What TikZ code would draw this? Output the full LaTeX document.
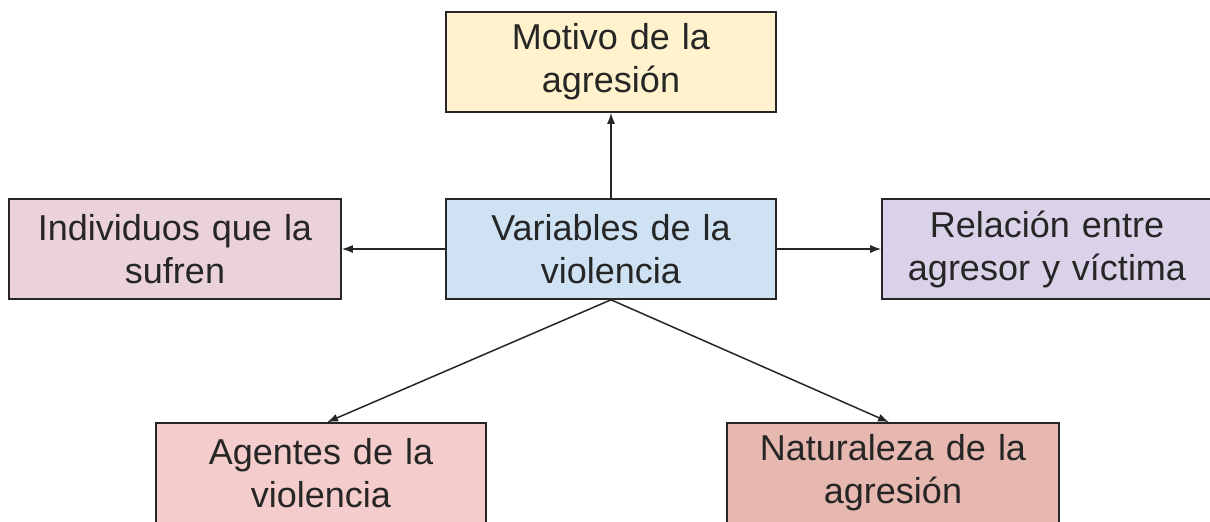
\documentclass[tikz,border=0pt]{standalone}
\usepackage{fontspec}
\setmainfont{Liberation Sans}
\usetikzlibrary{arrows.meta}
\definecolor{boxyellow}{HTML}{FFF2CC}
\definecolor{boxblue}{HTML}{CFE2F3}
\definecolor{boxmagenta}{HTML}{EAD1DC}
\definecolor{boxpurple}{HTML}{D9D2E9}
\definecolor{boxred}{HTML}{F4CCCC}
\definecolor{boxberry}{HTML}{E6B8AF}
\definecolor{edgegray}{HTML}{262626}
\begin{document}
\begin{tikzpicture}[x=1pt, y=-1pt,
		varbox/.style={rectangle, draw=edgegray, line width=1.6pt, minimum width=330pt, minimum height=100pt, align=center, text width=320pt, font=\fontsize{36}{43}\selectfont, text=black!85},
		link/.style={-{Latex[length=11pt,width=8pt]}, line width=1.5pt, edgegray}]
		\useasboundingbox (0,0) rectangle (1210,522);
		\node[varbox, fill=boxyellow] (motivo) at (611,62) {Motivo de la\\agresión};
		\node[varbox, fill=boxblue] (variables) at (611,249) {Variables de la\\violencia};
		\node[varbox, fill=boxmagenta, minimum width=332pt] (individuos) at (175,249) {Individuos que la\\sufren};
		\node[varbox, fill=boxpurple] (relacion) at (1047,249) {Relación entre\\agresor y víctima};
		\node[varbox, fill=boxred] (agentes) at (321,473) {Agentes de la\\violencia};
		\node[varbox, fill=boxberry, minimum width=332pt] (naturaleza) at (893,473) {Naturaleza de la\\agresión};
		
		\draw[link] (variables.north) -- (motivo.south);
		\draw[link] (variables.west) -- (individuos.east);
		\draw[link] (variables.east) -- (relacion.west);
		\draw[link] (variables.south) -- ([xshift=6pt]agentes.north);
		\draw[link] (variables.south) -- ([xshift=-4pt]naturaleza.north);
	\end{tikzpicture}
\end{document}
